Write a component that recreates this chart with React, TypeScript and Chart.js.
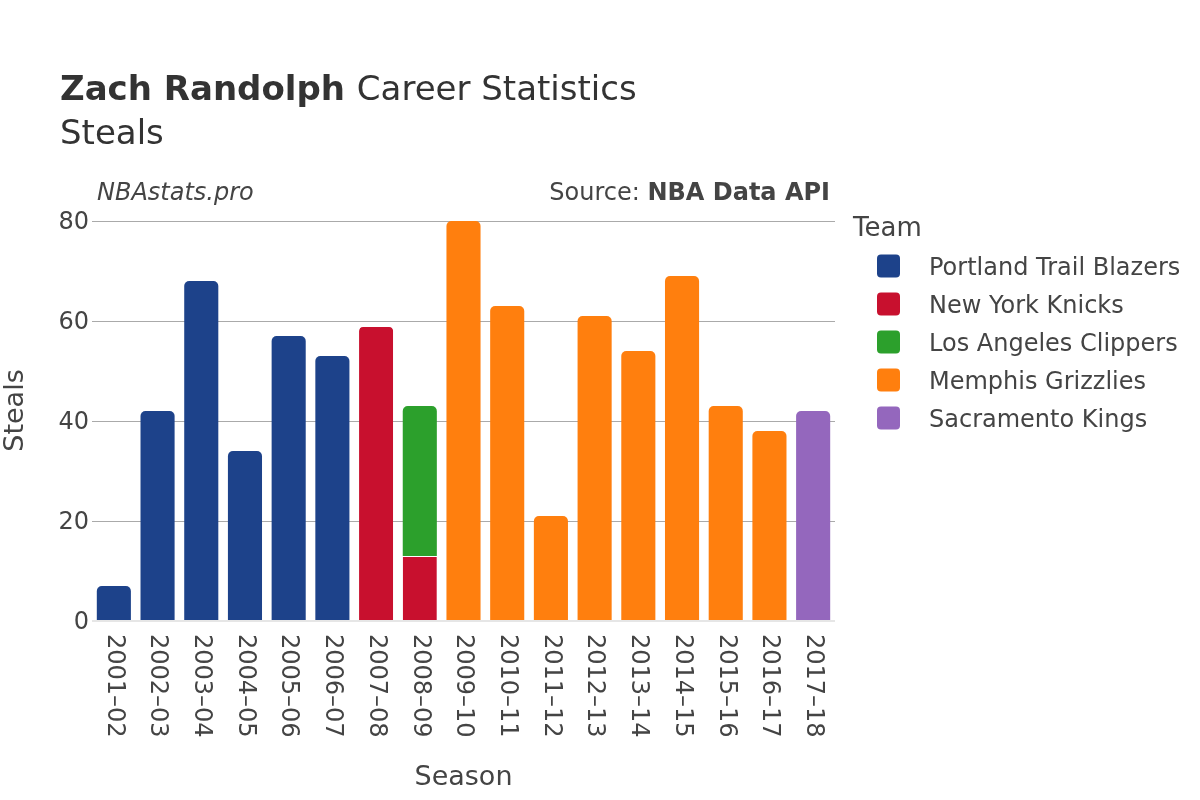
import React, { useEffect, useRef } from "react";
import { Chart, registerables } from "chart.js";

Chart.register(...registerables);

const seasons = [
  "2001–02", "2002–03", "2003–04", "2004–05", "2005–06", "2006–07", "2007–08", "2008–09",
  "2009–10", "2010–11", "2011–12", "2012–13", "2013–14", "2014–15", "2015–16", "2016–17", "2017–18",
];
const portland = [7, 42, 68, 34, 57, 53, null, null, null, null, null, null, null, null, null, null, null];
const knicks = [null, null, null, null, null, null, 59, 13, null, null, null, null, null, null, null, null, null];
const clippers = [null, null, null, null, null, null, null, 30, null, null, null, null, null, null, null, null, null];
const grizzlies = [null, null, null, null, null, null, null, null, 80, 63, 21, 61, 54, 69, 43, 38, null];
const kings = [null, null, null, null, null, null, null, null, null, null, null, null, null, null, null, null, 42];
const yTicks = [0, 20, 40, 60, 80];

const FONT = "'DejaVu Sans', sans-serif";

const textPlugin = {
  id: "texts",
  afterDraw(chart: any) {
    const ctx = chart.ctx as CanvasRenderingContext2D;
    ctx.save();
    // Title
    ctx.textBaseline = "alphabetic";
    ctx.textAlign = "left";
    ctx.fillStyle = "#333333";
    ctx.font = `bold 34px ${FONT}`;
    const t1 = "Zach Randolph";
    ctx.fillText(t1, 60, 100);
    const w1 = ctx.measureText(t1 + " ").width;
    ctx.font = `34px ${FONT}`;
    ctx.fillText("Career Statistics", 60 + w1, 100);
    ctx.fillText("Steals", 60, 144);

    // Subtitles
    ctx.fillStyle = "#444444";
    ctx.font = `italic 24px ${FONT}`;
    ctx.fillText("NBAstats.pro", 97, 200);
    ctx.textAlign = "right";
    ctx.font = `bold 24px ${FONT}`;
    const bold = "NBA Data API";
    ctx.fillText(bold, 830, 200);
    const bw = ctx.measureText(bold).width;
    ctx.font = `24px ${FONT}`;
    ctx.fillText("Source: ", 830 - bw, 200);

    // X tick labels (rotated, reading top to bottom)
    const xs = chart.scales.x;
    ctx.font = `24px ${FONT}`;
    ctx.fillStyle = "#444444";
    ctx.textAlign = "left";
    ctx.textBaseline = "middle";
    seasons.forEach((s, i) => {
      const x = xs.getPixelForTick(i);
      ctx.save();
      ctx.translate(x, 634);
      ctx.rotate(Math.PI / 2);
      ctx.fillText(s, 0, 0);
      ctx.restore();
    });

    // Legend
    ctx.textAlign = "left";
    ctx.textBaseline = "alphabetic";
    ctx.fillStyle = "#444444";
    ctx.font = `26px ${FONT}`;
    ctx.fillText("Team", 853, 236);
    ctx.font = `24px ${FONT}`;
    chart.data.datasets.forEach((ds: any, i: number) => {
      const cy = 266 + i * 38;
      ctx.fillStyle = ds.backgroundColor;
      ctx.beginPath();
      (ctx as any).roundRect(877, cy - 11.5, 23, 23, 4);
      ctx.fill();
      ctx.fillStyle = "#444444";
      ctx.fillText(ds.label, 929, cy + 8.5);
    });
    ctx.restore();
  },
};

export default function App() {
  const ref = useRef<HTMLCanvasElement | null>(null);
  useEffect(() => {
    if (!ref.current) return;
    const mk = (label: string, data: (number | null)[], color: string, extra: any = {}) => ({
      label,
      data,
      backgroundColor: color,
      borderRadius: 5,
      borderSkipped: "start",
      barPercentage: 0.78,
      categoryPercentage: 1.0,
      ...extra,
    });
    const chart = new Chart(ref.current, {
      type: "bar",
      data: {
        labels: seasons,
        datasets: [
          mk("Portland Trail Blazers", portland, "#1d428a"),
          mk("New York Knicks", knicks, "#c8102e", {
            borderColor: "#ffffff",
            borderWidth: { top: 1, left: 0, right: 0, bottom: 0 },
          }),
          mk("Los Angeles Clippers", clippers, "#2ca02c"),
          mk("Memphis Grizzlies", grizzlies, "#ff7f0e"),
          mk("Sacramento Kings", kings, "#9467bd"),
        ],
      },
      options: {
        responsive: false,
        animation: false,
        layout: { padding: { left: 0, top: 200, right: 365, bottom: 0 } },
        plugins: {
          legend: { display: false },
          title: { display: false },
          tooltip: { enabled: false },
        },
        scales: {
          x: {
            stacked: true,
            grid: { display: false },
            border: { display: false },
            ticks: { display: false },
            title: {
              display: true,
              text: "Season",
              color: "#444444",
              font: { family: FONT, size: 27 },
              padding: { top: 0, bottom: 6 },
            },
            afterFit: (s: any) => {
              s.height = 179;
            },
          },
          y: {
            stacked: true,
            min: 0,
            max: 84.2,
            border: { display: false },
            afterBuildTicks: (s: any) => {
              s.ticks = yTicks.map((v) => ({ value: v }));
            },
            grid: {
              drawTicks: false,
              color: (c: any) => (c.tick && c.tick.value === 0 ? "#e6e6e6" : "#aaaaaa"),
              lineWidth: (c: any) => (c.tick && c.tick.value === 0 ? 2 : 1),
            },
            ticks: {
              padding: 3,
              labelOffset: 2,
              color: "#444444",
              font: { family: FONT, size: 24 },
            },
            title: {
              display: true,
              text: "Steals",
              color: "#444444",
              font: { family: FONT, size: 27 },
              padding: { top: 0, bottom: 0 },
            },
            afterFit: (s: any) => {
              s.width = 92;
            },
          },
        },
      },
      plugins: [textPlugin],
    });
    return () => chart.destroy();
  }, []);
  return (
    <div style={{ position: "fixed", left: 0, top: 0, width: 1200, height: 800, background: "#ffffff" }}>
      <canvas ref={ref} width={1200} height={800} style={{ width: 1200, height: 800, display: "block" }} />
    </div>
  );
}
